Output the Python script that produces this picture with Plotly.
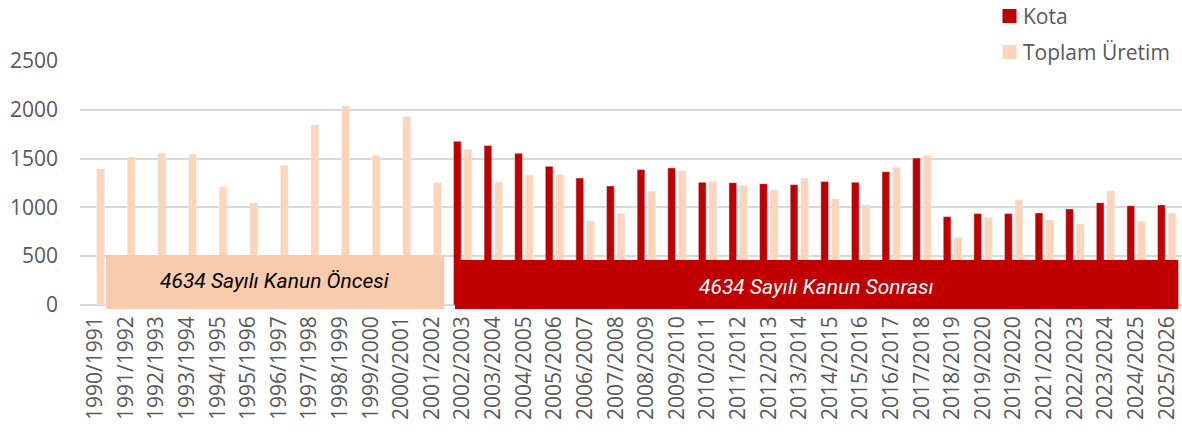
import plotly.graph_objects as go

seasons = ["1990/1991", "1991/1992", "1992/1993", "1993/1994", "1994/1995", "1995/1996",
           "1996/1997", "1997/1998", "1998/1999", "1999/2000", "2000/2001", "2001/2002",
           "2002/2003", "2003/2004", "2004/2005", "2005/2006", "2006/2007", "2007/2008",
           "2008/2009", "2009/2010", "2010/2011", "2011/2012", "2012/2013", "2013/2014",
           "2014/2015", "2015/2016", "2016/2017", "2017/2018", "2018/2019", "2019/2020",
           "2019/2020", "2021/2022", "2022/2023", "2023/2024", "2024/2025", "2025/2026"]

kota = [None, None, None, None, None, None, None, None, None, None, None, None,
        1677, 1633, 1554, 1421, 1301, 1219, 1387, 1404, 1257, 1253, 1243, 1233,
        1264, 1257, 1366, 1506, 905, 936, 936, 943, 984, 1048, 1017, 1025]

toplam = [1393, 1516, 1554, 1544, 1209, 1045, 1428, 1844, 2042, 1530, 1932, 1253,
          1592, 1260, 1332, 1335, 861, 936, 1165, 1376, 1264, 1223, 1178, 1298,
          1086, 1025, 1407, 1530, 690, 898, 1076, 871, 830, 1168, 854, 940]

series_names = ["Kota", "Toplam Üretim"]

x_idx = list(range(len(seasons)))

KOTA_COLOR = "#C00000"
TOPLAM_COLOR = "#FFD5B9"
ONCESI_COLOR = "#F8CBAD"
TEXT_GREY = "#595959"
TICK_FONT = "Open Sans, Liberation Sans, sans-serif"
BOX_FONT = "Roboto, Liberation Sans, sans-serif"

fig = go.Figure()
fig.add_trace(go.Bar(x=x_idx, y=kota, name=series_names[0], marker_color=KOTA_COLOR))
fig.add_trace(go.Bar(x=x_idx, y=toplam, name=series_names[1], marker_color=TOPLAM_COLOR))

# period boxes
fig.add_shape(type="rect", xref="x", yref="y", x0=0.35, x1=11.4, y0=-41, y1=512,
              fillcolor=ONCESI_COLOR, line_width=0, layer="above")
fig.add_shape(type="rect", xref="x", yref="y", x0=11.75, x1=35.38, y0=-41, y1=461,
              fillcolor=KOTA_COLOR, line_width=0, layer="above")

fig.add_annotation(x=5.87, y=240, xref="x", yref="y", text="<i>4634 Sayılı Kanun Öncesi</i>",
                   showarrow=False, font=dict(family=BOX_FONT, size=21, color="#000000"))
fig.add_annotation(x=23.55, y=180, xref="x", yref="y", text="<i>4634 Sayılı Kanun Sonrası</i>",
                   showarrow=False, font=dict(family=BOX_FONT, size=21, color="#FFFFFF"))

# custom legend (paper coords: plot area x 80..1182 px, y 61..309 px)
W, H, L, T = 1102.0, 248.0, 80.0, 61.0
def px_x(p):
    return (p - L) / W
def px_y(p):
    return 1 - (p - T) / H

legend_items = [(series_names[0], KOTA_COLOR, 16), (series_names[1], TOPLAM_COLOR, 52)]
for name, color, cy in legend_items:
    fig.add_shape(type="rect", xref="paper", yref="paper",
                  x0=px_x(1002.5), x1=px_x(1016.5), y0=px_y(cy + 7), y1=px_y(cy - 7),
                  fillcolor=color, line_width=0)
    fig.add_annotation(x=px_x(1021), y=px_y(cy), xref="paper", yref="paper",
                       xanchor="left", yanchor="middle", text=name, showarrow=False,
                       font=dict(family=TICK_FONT, size=21, color=TEXT_GREY))

fig.update_layout(
    width=1182, height=432,
    margin=dict(l=80, r=0, t=61, b=123, autoexpand=False),
    paper_bgcolor="white", plot_bgcolor="white",
    barmode="group", bargap=0.307, bargroupgap=0.27,
    showlegend=False,
    xaxis=dict(range=[-0.5, 35.5], tickmode="array", tickvals=x_idx, ticktext=seasons,
               tickangle=-90, showgrid=False, zeroline=False, showline=False, ticks="",
               ticklabelstandoff=2, automargin=False,
               tickfont=dict(family=TICK_FONT, size=21, color=TEXT_GREY)),
    yaxis=dict(range=[-42, 2500], tickvals=[0, 500, 1000, 1500, 2000, 2500],
               showgrid=True, gridcolor="#D9D9D9", gridwidth=1.5, zeroline=False,
               showline=False, ticks="", ticklabelstandoff=21, automargin=False,
               tickfont=dict(family=TICK_FONT, size=21, color=TEXT_GREY)),
)

fig.write_html("out.html", config={"displayModeBar": False},
               post_script="document.body.style.margin='0';document.body.style.overflow='hidden';")
